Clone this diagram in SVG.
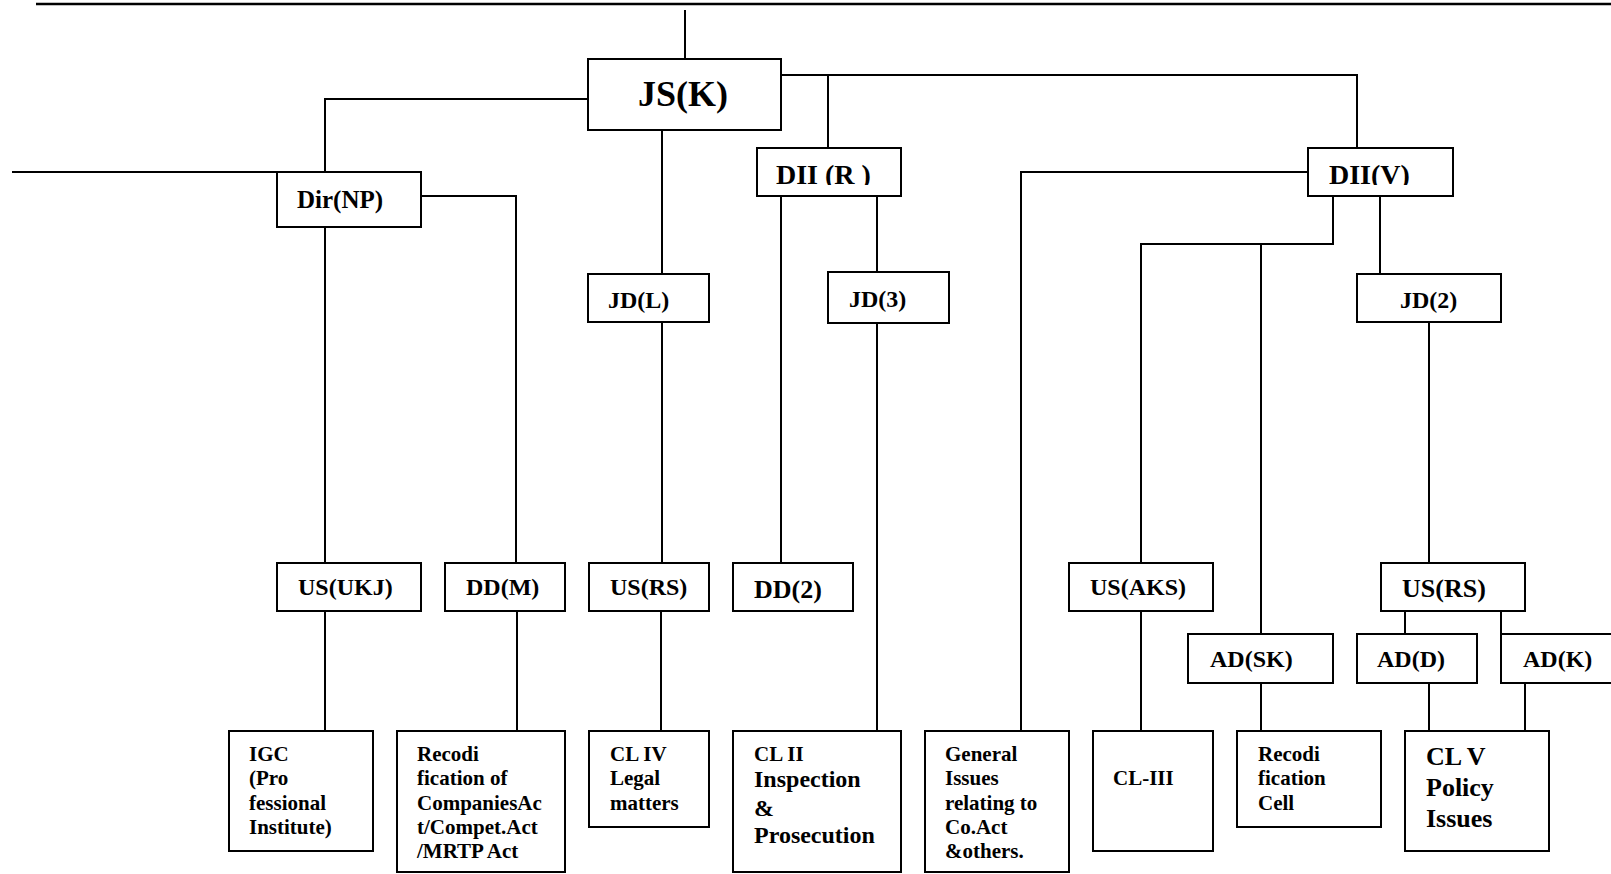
<svg xmlns="http://www.w3.org/2000/svg" width="1611" height="874" viewBox="0 0 1611 874">
<style>
rect{fill:#fff;stroke:#000;stroke-width:2}
.c path,.c line{fill:none;stroke:#000;stroke-width:2}
text{font-family:"Liberation Serif","Times New Roman",serif;font-weight:bold;fill:#000}
.s21{font-size:21px}.s24{font-size:24px}.s26{font-size:26px}
</style>
<defs>
<clipPath id="clipR"><rect x="757" y="148" width="144" height="37"/></clipPath>
<clipPath id="clipV"><rect x="1308" y="148" width="145" height="37"/></clipPath>
</defs>
<rect width="1611" height="874" style="fill:#fff;stroke:none"/>
<g class="c" id="connectors">
<line x1="36" y1="4" x2="1611" y2="4" style="stroke-width:2.5"/>
<line x1="685" y1="10" x2="685" y2="59"/>
<path d="M588,99H325V172"/>
<line x1="12" y1="172" x2="277" y2="172"/>
<path d="M781,75H1357V148"/>
<line x1="828" y1="75" x2="828" y2="148"/>
<path d="M421,196H516V563"/>
<line x1="325" y1="219" x2="325" y2="563"/>
<line x1="662" y1="130" x2="662" y2="274"/>
<line x1="662" y1="322" x2="662" y2="563"/>
<line x1="661" y1="611" x2="661" y2="731"/>
<line x1="325" y1="611" x2="325" y2="731"/>
<line x1="517" y1="611" x2="517" y2="731"/>
<line x1="781" y1="196" x2="781" y2="563"/>
<line x1="877" y1="196" x2="877" y2="272"/>
<line x1="877" y1="323" x2="877" y2="731"/>
<path d="M1308,172H1021V731"/>
<path d="M1333,196V244H1141V563"/>
<line x1="1261" y1="244" x2="1261" y2="634"/>
<line x1="1141" y1="611" x2="1141" y2="731"/>
<line x1="1261" y1="683" x2="1261" y2="731"/>
<line x1="1380" y1="196" x2="1380" y2="274"/>
<line x1="1429" y1="322" x2="1429" y2="563"/>
<line x1="1405" y1="611" x2="1405" y2="634"/>
<line x1="1501" y1="611" x2="1501" y2="634"/>
<line x1="1429" y1="683" x2="1429" y2="731"/>
<line x1="1525" y1="683" x2="1525" y2="731"/>
</g>
<g id="jsk"><rect x="588" y="59" width="193" height="71"/><text x="638" y="106" style="font-size:36px">JS(K)</text></g>
<g id="dirnp"><rect x="277" y="172" width="144" height="55"/><text x="297" y="208" style="font-size:25px">Dir(NP)</text></g>
<g id="jdl"><rect x="588" y="274" width="121" height="48"/><text class="s24" x="608" y="308">JD(L)</text></g>
<g id="diir"><rect x="757" y="148" width="144" height="48"/><text x="776" y="184" style="font-size:28px" clip-path="url(#clipR)">DII (R )</text></g>
<g id="jd3"><rect x="828" y="272" width="121" height="51"/><text class="s24" x="849" y="307">JD(3)</text></g>
<g id="diiv"><rect x="1308" y="148" width="145" height="48"/><text x="1329" y="184" style="font-size:28px" clip-path="url(#clipV)">DII(V)</text></g>
<g id="jd2"><rect x="1357" y="274" width="144" height="48"/><text class="s24" x="1400" y="308">JD(2)</text></g>
<g id="usukj"><rect x="277" y="563" width="144" height="48"/><text class="s24" x="298" y="595">US(UKJ)</text></g>
<g id="ddm"><rect x="445" y="563" width="120" height="48"/><text class="s24" x="466" y="595">DD(M)</text></g>
<g id="usrs1"><rect x="589" y="563" width="120" height="48"/><text class="s24" x="610" y="595">US(RS)</text></g>
<g id="dd2"><rect x="733" y="563" width="120" height="48"/><text class="s26" x="754" y="598">DD(2)</text></g>
<g id="usaks"><rect x="1069" y="563" width="144" height="48"/><text class="s24" x="1090" y="595">US(AKS)</text></g>
<g id="usrs2"><rect x="1381" y="563" width="144" height="48"/><text class="s26" x="1402" y="597">US(RS)</text></g>
<g id="adsk"><rect x="1188" y="634" width="145" height="49"/><text class="s24" x="1210" y="667">AD(SK)</text></g>
<g id="add"><rect x="1357" y="634" width="120" height="49"/><text class="s24" x="1377" y="667">AD(D)</text></g>
<g id="adk"><rect x="1501" y="634" width="120" height="49"/><text class="s24" x="1523" y="667">AD(K)</text></g>
<g id="igc"><rect x="229" y="731" width="144" height="120"/><text class="s21" x="249"><tspan x="249" y="761">IGC</tspan><tspan x="249" y="785">(Pro</tspan><tspan x="249" y="810">fessional</tspan><tspan x="249" y="834">Institute)</tspan></text></g>
<g id="recodi1"><rect x="397" y="731" width="168" height="141"/><text class="s21"><tspan x="417" y="761">Recodi</tspan><tspan x="417" y="785">fication of</tspan><tspan x="417" y="810">CompaniesAc</tspan><tspan x="417" y="834">t/Compet.Act</tspan><tspan x="417" y="858">/MRTP Act</tspan></text></g>
<g id="cliv"><rect x="589" y="731" width="120" height="96"/><text class="s21"><tspan x="610" y="761">CL IV</tspan><tspan x="610" y="785">Legal</tspan><tspan x="610" y="810">matters</tspan></text></g>
<g id="clii"><rect x="733" y="731" width="168" height="141"/><text><tspan class="s21" x="754" y="761">CL II</tspan><tspan class="s24" x="754" y="787">Inspection</tspan><tspan class="s24" x="754" y="816">&amp;</tspan><tspan class="s24" x="754" y="843">Prosecution</tspan></text></g>
<g id="general"><rect x="925" y="731" width="144" height="141"/><text class="s21"><tspan x="945" y="761">General</tspan><tspan x="945" y="785">Issues</tspan><tspan x="945" y="810">relating to</tspan><tspan x="945" y="834">Co.Act</tspan><tspan x="945" y="858">&amp;others.</tspan></text></g>
<g id="cliii"><rect x="1093" y="731" width="120" height="120"/><text class="s21" x="1113" y="785">CL-III</text></g>
<g id="recodi2"><rect x="1237" y="731" width="144" height="96"/><text class="s21"><tspan x="1258" y="761">Recodi</tspan><tspan x="1258" y="785">fication</tspan><tspan x="1258" y="810">Cell</tspan></text></g>
<g id="clv"><rect x="1405" y="731" width="144" height="120"/><text class="s26"><tspan x="1426" y="765">CL V</tspan><tspan x="1426" y="796">Policy</tspan><tspan x="1426" y="827">Issues</tspan></text></g>
</svg>
